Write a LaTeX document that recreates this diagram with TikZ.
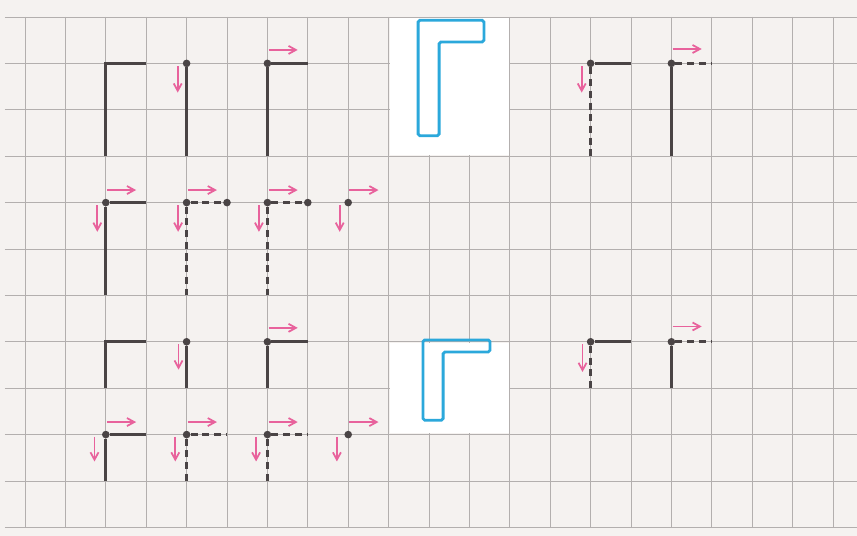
\documentclass[tikz,border=0pt]{standalone}
\usepackage{tikz}
\usetikzlibrary{arrows.meta}
\usepackage{xcolor}
\definecolor{paper}{HTML}{F5F2F0}
\definecolor{gridline}{HTML}{B3AFAE}
\definecolor{ink}{HTML}{4A4445}
\definecolor{pinkarr}{HTML}{E8629C}
\definecolor{letterblue}{HTML}{2BA8DB}
\tikzset{
  stroke/.style={ink,line width=2.6pt},
  guide/.style={ink,line width=2.6pt,dash pattern=on 6pt off 4pt},
  dot/.style={circle,fill=ink,inner sep=0pt,minimum size=6.5pt},
  hint/.style={pinkarr,line width=1.5pt,-{Straight Barb[length=2.2mm,width=2.4mm]}},
  letterbox/.style={fill=white},
  letter/.style={letterblue,line width=2.4pt,rounded corners=1.5pt}
}

\begin{document}
\begin{tikzpicture}[x=1.212cm,y=-1.392cm]
\useasboundingbox (-0.619,-0.366) rectangle (20.594,11.185);
\fill[paper] (-0.619,-0.366) rectangle (20.594,11.185);
% grid
\foreach \j in {0,...,11} \draw[gridline,line width=0.7pt] (-0.5,\j) -- (20.594,\j);
\foreach \i in {0,...,20} \draw[gridline,line width=0.7pt] (\i,0) -- (\i,11);
\fill[letterbox] (9.03,0.03) rectangle (11.97,2.97);
\fill[letterbox] (9.03,7.03) rectangle (11.97,8.97);
% model letters
\draw[letter] (9.73,0.07) -- (11.36,0.07) -- (11.36,0.54) -- (10.25,0.54) -- (10.25,2.56) -- (9.73,2.56) -- cycle;
\draw[letter] (9.85,6.96) -- (11.51,6.96) -- (11.51,7.22) -- (10.35,7.22) -- (10.35,8.69) -- (9.85,8.69) -- cycle;

% row 1
\coordinate (r1a) at (2,1);
\coordinate (r1ah) at (3,1);
\coordinate (r1av) at (2,3);
\draw[stroke] (r1ah) -- (r1a) -- (r1av);
\node[dot] (r1b) at (4,1) {};
\coordinate (r1bv) at (4,3);
\draw[stroke] (r1b) -- (r1bv);
\draw[hint] ([shift={(-0.22,0.06)}]r1b.center) -- ++(0,0.57);
\node[dot] (r1c) at (6,1) {};
\coordinate (r1ch) at (7,1);
\coordinate (r1cv) at (6,3);
\draw[stroke] (r1c) -- (r1ch);
\draw[stroke] (r1c) -- (r1cv);
\draw[hint] ([shift={(0.03,-0.29)}]r1c.center) -- ++(0.72,0);
\node[dot] (r1d) at (14,1) {};
\coordinate (r1dh) at (15,1);
\coordinate (r1dv) at (14,3);
\draw[stroke] (r1d) -- (r1dh);
\draw[guide] (r1d) -- (r1dv);
\draw[hint] ([shift={(-0.22,0.06)}]r1d.center) -- ++(0,0.57);
\node[dot] (r1e) at (16,1) {};
\coordinate (r1eh) at (17,1);
\coordinate (r1ev) at (16,3);
\draw[guide] (r1e) -- (r1eh);
\draw[stroke] (r1e) -- (r1ev);
\draw[hint] ([shift={(0.03,-0.31)}]r1e.center) -- ++(0.72,0);

% row 2
\node[dot] (r2a) at (2,4) {};
\coordinate (r2ah) at (3,4);
\coordinate (r2av) at (2,6);
\draw[stroke] (r2a) -- (r2ah);
\draw[stroke] (r2a) -- (r2av);
\node[dot] (r2b) at (4,4) {};
\node[dot] (r2bh) at (5,4) {};
\coordinate (r2bv) at (4,6);
\draw[guide] (r2b) -- (r2bh);
\draw[guide] (r2b) -- (r2bv);
\node[dot] (r2c) at (6,4) {};
\node[dot] (r2ch) at (7,4) {};
\coordinate (r2cv) at (6,6);
\draw[guide] (r2c) -- (r2ch);
\draw[guide] (r2c) -- (r2cv);
\node[dot] (r2d) at (8,4) {};
\foreach \n in {r2a,r2b,r2c,r2d} {
  \draw[hint] ([shift={(0.03,-0.27)}]\n.center) -- ++(0.72,0);
  \draw[hint] ([shift={(-0.21,0.06)}]\n.center) -- ++(0,0.57);
}

% row 3
\coordinate (r3a) at (2,7);
\coordinate (r3ah) at (3,7);
\coordinate (r3av) at (2,8);
\draw[stroke] (r3ah) -- (r3a) -- (r3av);
\node[dot] (r3b) at (4,7) {};
\coordinate (r3bv) at (4,8);
\draw[stroke] (r3b) -- (r3bv);
\draw[hint] ([shift={(-0.2,0.05)}]r3b.center) -- ++(0,0.55);
\node[dot] (r3c) at (6,7) {};
\coordinate (r3ch) at (7,7);
\coordinate (r3cv) at (6,8);
\draw[stroke] (r3c) -- (r3ch);
\draw[stroke] (r3c) -- (r3cv);
\draw[hint] ([shift={(0.03,-0.3)}]r3c.center) -- ++(0.72,0);
\node[dot] (r3d) at (14,7) {};
\coordinate (r3dh) at (15,7);
\coordinate (r3dv) at (14,8);
\draw[stroke] (r3d) -- (r3dh);
\draw[guide] (r3d) -- (r3dv);
\draw[hint] ([shift={(-0.2,0.05)}]r3d.center) -- ++(0,0.6);
\node[dot] (r3e) at (16,7) {};
\coordinate (r3eh) at (17,7);
\coordinate (r3ev) at (16,8);
\draw[guide] (r3e) -- (r3eh);
\draw[stroke] (r3e) -- (r3ev);
\draw[hint] ([shift={(0.03,-0.33)}]r3e.center) -- ++(0.72,0);

% row 4
\node[dot] (r4a) at (2,9) {};
\coordinate (r4ah) at (3,9);
\coordinate (r4av) at (2,10);
\draw[stroke] (r4a) -- (r4ah);
\draw[stroke] (r4a) -- (r4av);
\node[dot] (r4b) at (4,9) {};
\coordinate (r4bh) at (5,9);
\coordinate (r4bv) at (4,10);
\draw[guide] (r4b) -- (r4bh);
\draw[guide] (r4b) -- (r4bv);
\node[dot] (r4c) at (6,9) {};
\coordinate (r4ch) at (7,9);
\coordinate (r4cv) at (6,10);
\draw[guide] (r4c) -- (r4ch);
\draw[guide] (r4c) -- (r4cv);
\node[dot] (r4d) at (8,9) {};
\foreach \n in {r4a,r4b,r4c,r4d} {
  \draw[hint] ([shift={(0.03,-0.27)}]\n.center) -- ++(0.72,0);
  \draw[hint] ([shift={(-0.28,0.05)}]\n.center) -- ++(0,0.53);
}
\end{tikzpicture}
\end{document}
